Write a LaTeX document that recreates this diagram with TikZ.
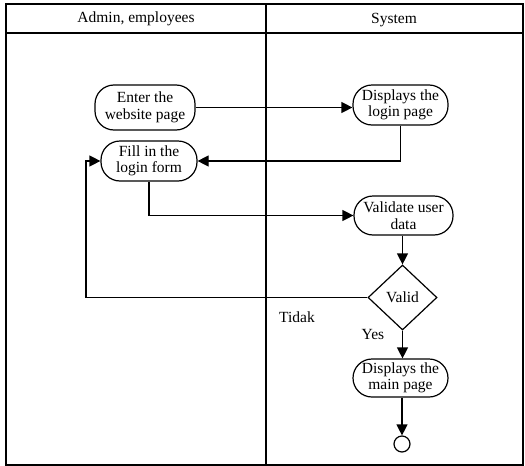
\documentclass[tikz,border=0pt]{standalone}
\usepackage{fontspec}
\setmainfont{Liberation Serif}
\usetikzlibrary{shapes.geometric,arrows.meta}
\begin{document}
\begin{tikzpicture}[x=1pt,y=-1pt,
  every node/.style={font=\rmfamily\fontsize{15.5}{16.5}\selectfont},
  act/.style={draw,line width=1.2pt,rectangle,rounded corners=19pt,align=center,inner sep=0pt,minimum height=40pt},
  dec/.style={draw,line width=1.2pt,diamond,minimum width=69pt,minimum height=65pt,inner sep=0pt},
  flow/.style={line width=1.2pt,-{Triangle[length=11pt,width=11pt]}},
  lane/.style={line width=1.2pt},
  lbl/.style={inner sep=0pt}]
\useasboundingbox (0,0) rectangle (525,466);
% swimlanes
\draw[lane] (6,4) rectangle (523,465);
\draw[lane] (6,33) -- (523,33);
\draw[lane] (266,4) -- (266,465);
\node[lbl] (h1) at (136,19) {Admin, employees};
\node[lbl] (h2) at (394,20) {System};
% nodes
\node[act,minimum width=100pt,minimum height=45pt] (enter) at (145,107.5) {Enter the\\website page};
\node[act,minimum width=95pt] (dlogin) at (400.5,105) {Displays the\\login page};
\node[act,minimum width=96pt] (fill) at (149,161) {Fill in the\\login form};
\node[act,minimum width=99pt,minimum height=39pt] (validate) at (403.5,215.5) {Validate user\\data};
\node[dec] (valid) at (402.5,297.5) {Valid};
\node[act,minimum width=95pt,minimum height=38pt] (main) at (400.5,378) {Displays the\\main page};
\node[draw,circle,line width=1.2pt,minimum size=16pt,inner sep=0pt] (end) at (402,444) {};
\coordinate (back) at (86,297.5);
% edges
\draw[flow] (enter.east) -- (enter.east -| dlogin.west);
\draw[flow] (dlogin.south) |- (fill.east);
\draw[flow] (fill.south) |- (validate.west);
\draw[flow] (validate.south -| valid.north) -- (valid.north);
\draw[flow] (valid.west) -- (back) |- (fill.west);
\draw[flow] (valid.south) -- (valid.south |- main.north);
\draw[flow] (end.north |- main.south) -- (end.north);
% labels
\node[lbl] (tidak) at (297,317) {Tidak};
\node[lbl] (yes) at (373,334) {Yes};
\end{tikzpicture}
\end{document}
